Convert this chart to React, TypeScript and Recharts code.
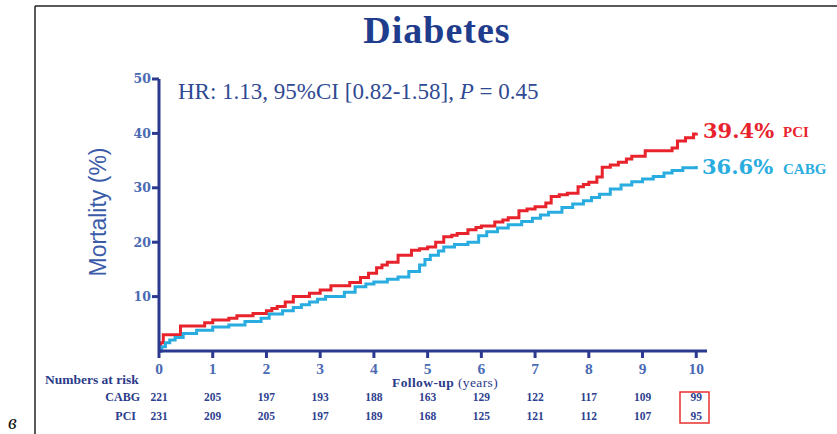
import { LineChart, Line, XAxis, YAxis } from 'recharts';

// Kaplan-Meier style cumulative mortality
const pciTime = [0, 0.03, 0.08, 0.4, 0.85, 1.0, 1.3, 1.45, 1.75, 2.0, 2.1, 2.2, 2.35, 2.5, 2.8, 3.0, 3.2, 3.55, 3.75, 3.9, 4.05, 4.15, 4.25, 4.45, 4.7, 4.85, 5.0, 5.15, 5.3, 5.45, 5.55, 5.75, 5.9, 6.0, 6.25, 6.4, 6.5, 6.7, 6.85, 7.0, 7.2, 7.3, 7.45, 7.6, 7.8, 7.9, 8.0, 8.15, 8.25, 8.4, 8.55, 8.7, 8.8, 9.05, 9.55, 9.65, 9.8, 9.95, 10.0];
const pciRate = [0, 1.5, 3.0, 4.6, 5.2, 5.7, 6.0, 6.5, 6.9, 7.4, 7.8, 8.2, 9.0, 10.0, 10.6, 11.2, 12.0, 12.6, 13.5, 14.3, 15.3, 15.8, 16.3, 17.6, 18.5, 18.8, 19.1, 20.0, 21.0, 21.3, 21.6, 22.3, 22.7, 23.0, 23.7, 24.1, 24.5, 25.8, 26.1, 26.5, 27.2, 28.4, 28.7, 29.0, 30.2, 30.6, 31.0, 32.0, 33.8, 34.2, 34.7, 35.3, 35.8, 36.8, 37.3, 38.6, 39.2, 39.9, 40.1];

const cabgTime = [0, 0.05, 0.12, 0.2, 0.3, 0.45, 0.7, 1.0, 1.3, 1.6, 1.9, 2.05, 2.3, 2.5, 2.65, 2.8, 2.95, 3.1, 3.45, 3.65, 3.85, 4.0, 4.25, 4.45, 4.65, 4.85, 4.95, 5.05, 5.2, 5.3, 5.5, 5.75, 5.95, 6.1, 6.3, 6.5, 6.75, 6.95, 7.1, 7.25, 7.5, 7.7, 7.9, 8.05, 8.2, 8.4, 8.6, 8.8, 9.0, 9.2, 9.4, 9.55, 9.75, 10.0];
const cabgRate = [0, 0.8, 1.5, 2.0, 2.5, 3.2, 3.8, 4.4, 4.8, 5.4, 6.0, 6.8, 7.4, 8.0, 8.5, 9.0, 9.5, 10.0, 10.8, 11.8, 12.3, 12.7, 13.2, 13.6, 14.6, 15.8, 16.8, 17.6, 18.4, 19.1, 19.6, 20.0, 21.2, 21.9, 22.6, 23.2, 23.8, 24.4, 25.0, 25.5, 26.4, 27.0, 27.6, 28.2, 28.8, 29.8, 30.5, 31.1, 31.6, 32.1, 32.7, 33.2, 33.7, 34.0];

const yearTicks = [0, 1, 2, 3, 4, 5, 6, 7, 8, 9, 10];
const yTicks = [10, 20, 30, 40, 50];
const cabgAtRisk = [221, 205, 197, 193, 188, 163, 129, 122, 117, 109, 99];
const pciAtRisk = [231, 209, 205, 197, 189, 168, 125, 121, 112, 107, 95];

const pciData = pciTime.map((t, i) => ({ t, v: pciRate[i] }));
const cabgData = cabgTime.map((t, i) => ({ t, v: cabgRate[i] }));

const NAVY = '#2B3990';
const RED = '#E8232C';
const CYAN = '#29ACE0';
const serif = '"Liberation Serif", serif';

function YearTick(props: any) {
    const { x, y, payload } = props;
    const i = yearTicks.indexOf(payload.value);
    return (
        <g>
            <text x={x} y={y + 16} textAnchor="middle" fill="#4A6AB3" fontFamily={serif} fontWeight="bold" fontSize={15.5}>
                {payload.value}
            </text>
            <text x={x} y={y + 43} textAnchor="middle" fill="#2E3F8F" fontFamily={serif} fontWeight="bold" fontSize={11.5}>
                {cabgAtRisk[i]}
            </text>
            <text x={x} y={y + 62} textAnchor="middle" fill="#2E3F8F" fontFamily={serif} fontWeight="bold" fontSize={11.5}>
                {pciAtRisk[i]}
            </text>
        </g>
    );
}

export default function App() {
    return (
        <div style={{ position: 'absolute', left: 0, top: 0, width: 837, height: 434, background: '#fff' }}>
            <LineChart width={837} height={434} margin={{ top: 79, right: 130, bottom: 53, left: 99 }}>
                <XAxis
                    type="number"
                    dataKey="t"
                    domain={[0, 10.2]}
                    ticks={yearTicks}
                    height={30}
                    stroke={NAVY}
                    strokeWidth={3}
                    tickSize={7}
                    tickMargin={0}
                    tick={<YearTick />}
                    interval={0}
                />
                <YAxis
                    type="number"
                    dataKey="v"
                    domain={[0, 50]}
                    ticks={yTicks}
                    width={60}
                    stroke={NAVY}
                    strokeWidth={3}
                    tickSize={7}
                    tickMargin={1}
                    tick={{ fill: '#4A6AB3', fontSize: 12.5, fontWeight: 'bold', fontFamily: '"DejaVu Serif", serif' }}
                    interval={0}
                />
                <Line data={pciData} dataKey="v" type="stepAfter" stroke={RED} strokeWidth={3} dot={false} isAnimationActive={false} />
                <Line data={cabgData} dataKey="v" type="stepAfter" stroke={CYAN} strokeWidth={3} dot={false} isAnimationActive={false} />
            </LineChart>
            <svg width={837} height={434} style={{ position: 'absolute', left: 0, top: 0, pointerEvents: 'none' }}>
                <line x1={35} y1={6} x2={35} y2={434} stroke="#222" strokeWidth={1.5} />
                <line x1={35} y1={6} x2={837} y2={6} stroke="#222" strokeWidth={1.5} />
                <text x={8} y={429} fontFamily={serif} fontStyle="italic" fontSize={20} fill="#111">в</text>
                <text x={437} y={43} textAnchor="middle" fontFamily={serif} fontWeight="bold" fontSize={38} letterSpacing={1} fill="#1F3D8C">
                    Diabetes
                </text>
                <text x={178} y={99} fontFamily={serif} fontSize={23} fill="#2F4A93">
                    HR: 1.13, 95%CI [0.82-1.58], <tspan fontStyle="italic">P</tspan> = 0.45
                </text>
                <text x={106} y={212} textAnchor="middle" transform="rotate(-90 106 212)" fontFamily='"Liberation Sans", sans-serif' fontSize={23} fill="#3B5BA9">
                    Mortality (%)
                </text>
                <text x={45} y={384} fontFamily={serif} fontWeight="bold" fontSize={13.5} fill="#2B3B8A">Numbers at risk</text>
                <text x={392} y={387} fontFamily={serif} fontSize={13.5} letterSpacing={0.4} fill="#2B3B8A">
                    <tspan fontWeight="bold">Follow-up</tspan> (years)
                </text>
                <text x={140} y={401} textAnchor="end" fontFamily={serif} fontWeight="bold" fontSize={12} fill="#2B3B8A">CABG</text>
                <text x={136} y={420} textAnchor="end" fontFamily={serif} fontWeight="bold" fontSize={12} fill="#2B3B8A">PCI</text>
                <rect x={680} y={392} width={29} height={31} fill="none" stroke="#E8302E" strokeWidth={1.5} />
                <text x={703} y={138} fontFamily='"DejaVu Serif", serif' fontWeight="bold" fontSize={21} fill={RED}>39.4%</text>
                <text x={783} y={137} fontFamily={serif} fontWeight="bold" fontSize={15} fill={RED}>PCI</text>
                <text x={702} y={174} fontFamily='"DejaVu Serif", serif' fontWeight="bold" fontSize={21} fill={CYAN}>36.6%</text>
                <text x={783} y={174} fontFamily={serif} fontWeight="bold" fontSize={15} fill={CYAN}>CABG</text>
            </svg>
        </div>
    );
}
